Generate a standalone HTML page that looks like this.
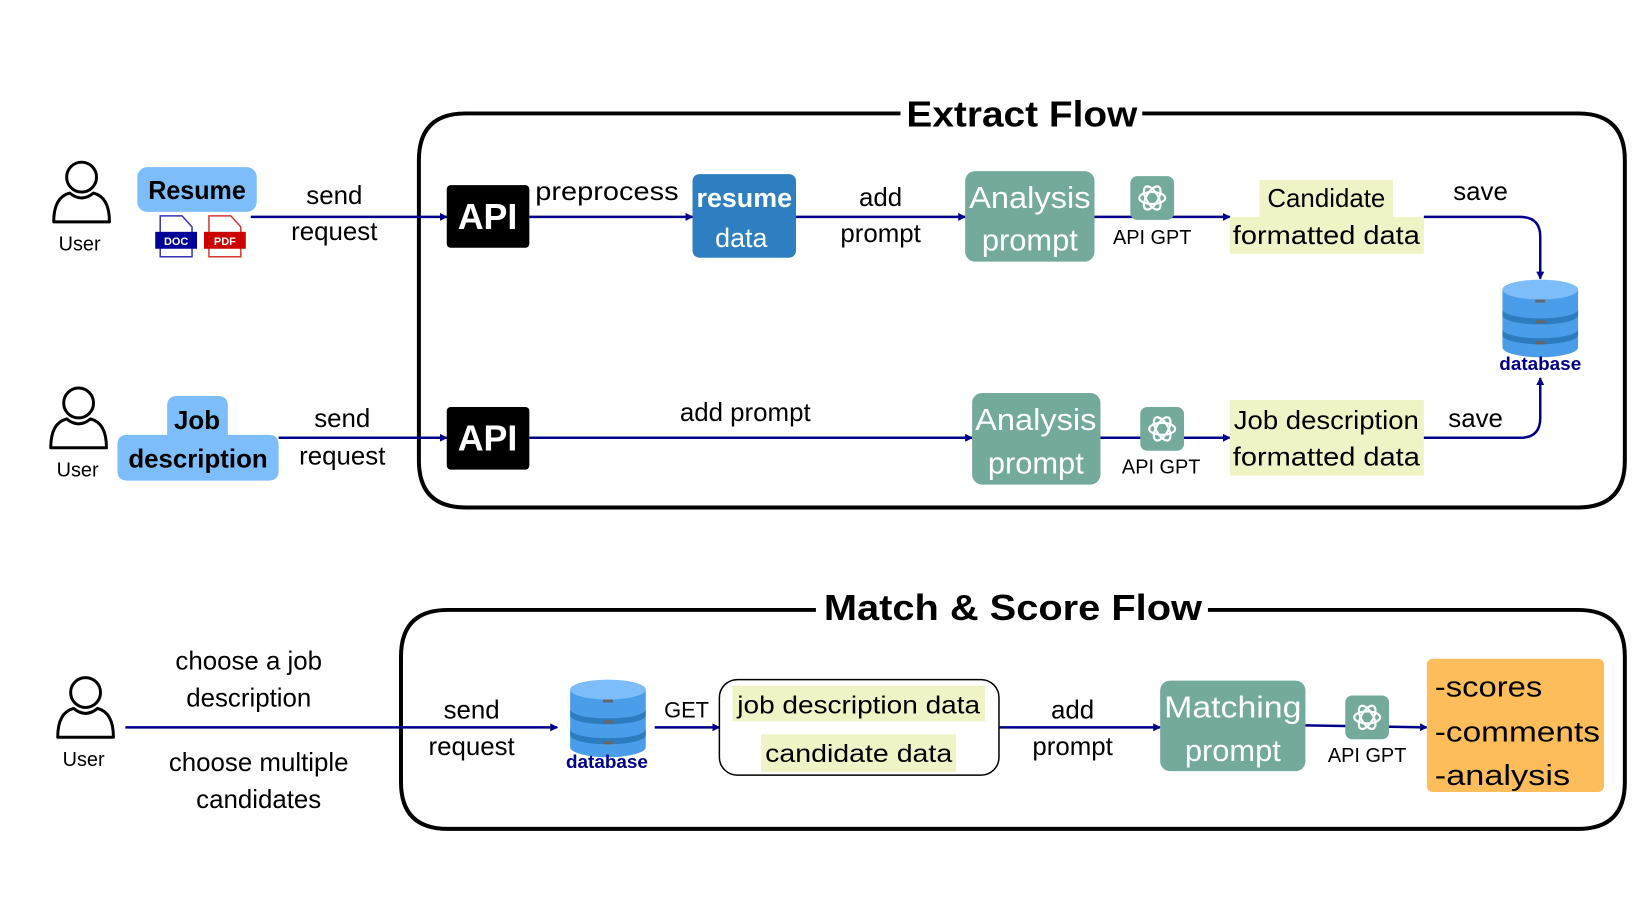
<!DOCTYPE html>
<html><head><meta charset="utf-8"><style>
html,body{margin:0;padding:0;background:#fff;}
svg{display:block;}
text{font-family:"Liberation Sans",sans-serif;}
</style></head><body>
<svg width="1640" height="924" viewBox="0 0 1640 924" xmlns="http://www.w3.org/2000/svg">
<defs>
<marker id="ar" markerWidth="8" markerHeight="8" refX="7" refY="4" orient="auto" markerUnits="userSpaceOnUse">
<path d="M0,0 L8,4 L0,8 Z" fill="#00008b"/></marker>
<g id="user">
<circle cx="0" cy="-12" r="15" fill="none" stroke="#000" stroke-width="3"/>
<path d="M-28,33 Q-28,8 -12,4 Q0,14 12,4 Q28,8 28,33 Z" fill="none" stroke="#000" stroke-width="3" stroke-linejoin="round"/>
</g>
<g id="gpt">
<rect x="0" y="0" width="44" height="44" rx="7" fill="#74aa9c"/>
<g fill="none" stroke="#fff" stroke-width="2.2" transform="translate(22,22)">
<ellipse rx="13" ry="6" transform="rotate(0)"/>
<ellipse rx="13" ry="6" transform="rotate(60)"/>
<ellipse rx="13" ry="6" transform="rotate(120)"/>
</g>
</g>
<g id="db">
<path d="M0,10 v58 a38,10 0 0 0 76,0 v-58" fill="#4a9de8"/>
<path d="M0,30 a38,9 0 0 0 76,0 v6 a38,9 0 0 1 -76,0z" fill="#2d7cc0"/>
<path d="M0,50 a38,9 0 0 0 76,0 v6 a38,9 0 0 1 -76,0z" fill="#2d7cc0"/>
<ellipse cx="38" cy="10" rx="38" ry="10" fill="#7dbdfa"/>
<rect x="33" y="20" width="10" height="3" fill="#666"/>
<rect x="33" y="41" width="10" height="3" fill="#666"/>
<rect x="33" y="62" width="10" height="3" fill="#666"/>
</g>
</defs>
<g transform="scale(0.995)">
<!-- Extract Flow frame -->
<path d="M905,114 H468 Q421,114 421,161 V463 Q421,510 468,510 H1586 Q1633,510 1633,463 V161 Q1633,114 1586,114 H1148" fill="none" stroke="#000" stroke-width="4"/>
<text x="1027" y="127" font-size="36" font-weight="bold" text-anchor="middle" textLength="232" lengthAdjust="spacingAndGlyphs">Extract Flow</text>

<!-- row 1 -->
<use href="#user" x="82" y="190"/>
<text x="80" y="252" font-size="20" text-anchor="middle">User</text>
<rect x="138" y="168" width="120" height="45" rx="10" fill="#7dbdfa"/>
<text x="198" y="200" font-size="26" font-weight="bold" text-anchor="middle" textLength="98" lengthAdjust="spacingAndGlyphs">Resume</text>
<g fill="#fff" stroke="#3333bb" stroke-width="1.5"><path d="M161,217 H183 L193,228 V258 H161 Z"/></g>
<rect x="156" y="233" width="42" height="17" fill="#000099"/>
<text x="177" y="246" font-size="11" font-weight="bold" fill="#fff" text-anchor="middle">DOC</text>
<g fill="#fff" stroke="#dd3333" stroke-width="1.5"><path d="M210,217 H232 L242,228 V258 H210 Z"/></g>
<rect x="205" y="233" width="42" height="17" fill="#cc0000"/>
<text x="226" y="246" font-size="11" font-weight="bold" fill="#fff" text-anchor="middle">PDF</text>
<line x1="252" y1="218" x2="449" y2="218" stroke="#00008b" stroke-width="2.5" marker-end="url(#ar)"/>
<text x="336" y="205" font-size="26" text-anchor="middle">send</text>
<text x="336" y="241" font-size="26" text-anchor="middle">request</text>
<rect x="449" y="186" width="83" height="63" rx="4" fill="#000"/>
<text x="490" y="230" font-size="36" font-weight="bold" fill="#fff" text-anchor="middle">API</text>
<line x1="532" y1="218" x2="696" y2="218" stroke="#00008b" stroke-width="2.5" marker-end="url(#ar)"/>
<text x="610" y="201" font-size="26" text-anchor="middle" textLength="144" lengthAdjust="spacingAndGlyphs">preprocess</text>
<rect x="696" y="175" width="104" height="84" rx="7" fill="#2e7fc1"/>
<text x="748" y="208" font-size="27" font-weight="bold" fill="#fff" text-anchor="middle" textLength="96" lengthAdjust="spacingAndGlyphs">resume</text>
<text x="745" y="248" font-size="27" fill="#fff" text-anchor="middle">data</text>
<line x1="800" y1="218" x2="970" y2="218" stroke="#00008b" stroke-width="2.5" marker-end="url(#ar)"/>
<text x="885" y="207" font-size="26" text-anchor="middle">add</text>
<text x="885" y="243" font-size="26" text-anchor="middle">prompt</text>
<rect x="970" y="172" width="130" height="91" rx="10" fill="#74aa9c"/>
<text x="1035" y="209" font-size="31" fill="#fff" text-anchor="middle" textLength="122" lengthAdjust="spacingAndGlyphs">Analysis</text>
<text x="1035" y="252" font-size="31" fill="#fff" text-anchor="middle">prompt</text>
<line x1="1100" y1="218" x2="1236" y2="218" stroke="#00008b" stroke-width="2.5" marker-end="url(#ar)"/>
<use href="#gpt" x="1136" y="177"/>
<text x="1158" y="245" font-size="20" text-anchor="middle">API GPT</text>
<path d="M1266,181 H1400 V218 H1431 V255 H1236 V218 H1266 Z" fill="#eff3c5"/>
<text x="1333" y="208" font-size="26" text-anchor="middle">Candidate</text>
<text x="1333" y="245" font-size="26" text-anchor="middle" textLength="188" lengthAdjust="spacingAndGlyphs">formatted data</text>
<text x="1488" y="201" font-size="26" text-anchor="middle">save</text>
<path d="M1431,218 H1528 Q1548,218 1548,238 V280" fill="none" stroke="#00008b" stroke-width="2.5" marker-end="url(#ar)"/>
<use href="#db" x="1510" y="281"/>
<text x="1548" y="372" font-size="19" font-weight="bold" fill="#00008b" text-anchor="middle">database</text>

<!-- row 2 -->
<use href="#user" x="79" y="417"/>
<text x="78" y="479" font-size="20" text-anchor="middle">User</text>
<path d="M178,398 H219 Q229,398 229,408 V437 H270 Q280,437 280,447 V473 Q280,483 270,483 H128 Q118,483 118,473 V447 Q118,437 128,437 H168 V408 Q168,398 178,398 Z" fill="#7dbdfa"/>
<text x="198" y="431" font-size="26" font-weight="bold" text-anchor="middle">Job</text>
<text x="199" y="470" font-size="26" font-weight="bold" text-anchor="middle" textLength="140" lengthAdjust="spacingAndGlyphs">description</text>
<line x1="280" y1="440" x2="449" y2="440" stroke="#00008b" stroke-width="2.5" marker-end="url(#ar)"/>
<text x="344" y="429" font-size="26" text-anchor="middle">send</text>
<text x="344" y="467" font-size="26" text-anchor="middle">request</text>
<rect x="449" y="409" width="83" height="63" rx="4" fill="#000"/>
<text x="490" y="453" font-size="36" font-weight="bold" fill="#fff" text-anchor="middle">API</text>
<line x1="532" y1="440" x2="977" y2="440" stroke="#00008b" stroke-width="2.5" marker-end="url(#ar)"/>
<text x="749" y="423" font-size="26" text-anchor="middle">add prompt</text>
<rect x="977" y="395" width="129" height="92" rx="10" fill="#74aa9c"/>
<text x="1041" y="432" font-size="31" fill="#fff" text-anchor="middle" textLength="122" lengthAdjust="spacingAndGlyphs">Analysis</text>
<text x="1041" y="476" font-size="31" fill="#fff" text-anchor="middle">prompt</text>
<line x1="1106" y1="440" x2="1236" y2="440" stroke="#00008b" stroke-width="2.5" marker-end="url(#ar)"/>
<use href="#gpt" x="1146" y="409"/>
<text x="1167" y="476" font-size="20" text-anchor="middle">API GPT</text>
<rect x="1236" y="402" width="195" height="76" fill="#eff3c5"/>
<text x="1333" y="431" font-size="26" text-anchor="middle" textLength="186" lengthAdjust="spacingAndGlyphs">Job description</text>
<text x="1333" y="468" font-size="26" text-anchor="middle" textLength="188" lengthAdjust="spacingAndGlyphs">formatted data</text>
<text x="1483" y="429" font-size="26" text-anchor="middle">save</text>
<path d="M1431,440 H1528 Q1548,440 1548,420 V380" fill="none" stroke="#00008b" stroke-width="2.5" marker-end="url(#ar)"/>

<!-- Match & Score frame -->
<path d="M820,613 H450 Q403,613 403,660 V786 Q403,833 450,833 H1586 Q1633,833 1633,786 V660 Q1633,613 1586,613 H1214" fill="none" stroke="#000" stroke-width="4"/>
<text x="1018" y="623" font-size="36" font-weight="bold" text-anchor="middle" textLength="380" lengthAdjust="spacingAndGlyphs">Match &amp; Score Flow</text>

<use href="#user" x="86" y="708"/>
<text x="84" y="770" font-size="20" text-anchor="middle">User</text>
<line x1="126" y1="731" x2="560" y2="731" stroke="#00008b" stroke-width="2.5" marker-end="url(#ar)"/>
<text x="250" y="673" font-size="26" text-anchor="middle">choose a job</text>
<text x="250" y="710" font-size="26" text-anchor="middle">description</text>
<text x="260" y="775" font-size="26" text-anchor="middle">choose multiple</text>
<text x="260" y="812" font-size="26" text-anchor="middle">candidates</text>
<text x="474" y="722" font-size="26" text-anchor="middle">send</text>
<text x="474" y="759" font-size="26" text-anchor="middle">request</text>
<use href="#db" x="573" y="683"/>
<text x="610" y="772" font-size="19" font-weight="bold" fill="#00008b" text-anchor="middle">database</text>
<line x1="658" y1="731" x2="723" y2="731" stroke="#00008b" stroke-width="2.5" marker-end="url(#ar)"/>
<text x="690" y="721" font-size="22" text-anchor="middle">GET</text>
<rect x="723" y="683" width="281" height="96" rx="18" fill="#fff" stroke="#000" stroke-width="1.5"/>
<rect x="736" y="689" width="254" height="36" fill="#eff3c5"/>
<rect x="765" y="738" width="196" height="38" fill="#eff3c5"/>
<text x="863" y="717" font-size="25" text-anchor="middle" textLength="244" lengthAdjust="spacingAndGlyphs">job description data</text>
<text x="863" y="766" font-size="25" text-anchor="middle" textLength="188" lengthAdjust="spacingAndGlyphs">candidate data</text>
<line x1="1004" y1="731" x2="1166" y2="731" stroke="#00008b" stroke-width="2.5" marker-end="url(#ar)"/>
<text x="1078" y="722" font-size="26" text-anchor="middle">add</text>
<text x="1078" y="759" font-size="26" text-anchor="middle">prompt</text>
<rect x="1166" y="684" width="146" height="91" rx="10" fill="#74aa9c"/>
<text x="1239" y="721" font-size="31" fill="#fff" text-anchor="middle" textLength="138" lengthAdjust="spacingAndGlyphs">Matching</text>
<text x="1239" y="765" font-size="31" fill="#fff" text-anchor="middle">prompt</text>
<line x1="1312" y1="729" x2="1434" y2="731" stroke="#00008b" stroke-width="2.5" marker-end="url(#ar)"/>
<use href="#gpt" x="1352" y="699"/>
<text x="1374" y="766" font-size="20" text-anchor="middle">API GPT</text>
<rect x="1434" y="662" width="178" height="134" rx="6" fill="#fdbd5a"/>
<text x="1442" y="700" font-size="29" textLength="108" lengthAdjust="spacingAndGlyphs">-scores</text>
<text x="1442" y="745" font-size="29" textLength="166" lengthAdjust="spacingAndGlyphs">-comments</text>
<text x="1442" y="789" font-size="29" textLength="136" lengthAdjust="spacingAndGlyphs">-analysis</text>
</g>
</svg>
</body></html>
